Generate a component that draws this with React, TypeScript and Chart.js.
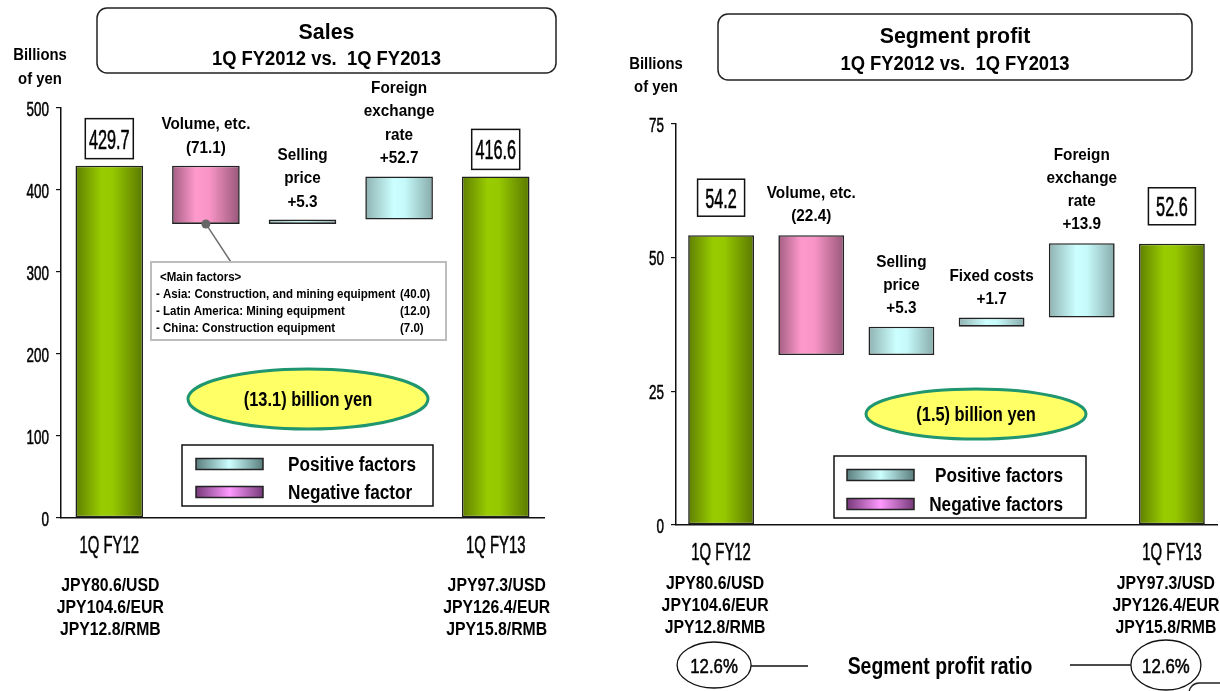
import { useEffect, useRef } from 'react';
import { Chart, registerables } from 'chart.js';

Chart.register(...registerables);

const SANS = '"Liberation Sans", Arial, "DejaVu Sans", sans-serif';

// ---------- Sales ----------
const SALES_CATEGORIES = ['1Q FY12', 'Volume, etc.', 'Selling price', 'Foreign exchange rate', '1Q FY13'];
const SALES_FACTOR_LINES = [['Volume, etc.'], ['Selling', 'price'], ['Foreign', 'exchange', 'rate']];
const SALES_START = 429.7;
const SALES_DELTAS = [-71.1, 5.3, 52.7];
const SALES_END = 416.6;
const SALES_CHANGE = -13.1;
const SALES_Y_TICKS = [0, 100, 200, 300, 400, 500];
const SALES_MAIN_FACTORS = [
  '- Asia: Construction, and mining equipment',
  '- Latin America: Mining equipment',
  '- China: Construction equipment',
];
const SALES_MAIN_FACTOR_VALUES = [-40.0, -12.0, -7.0];

// ---------- Segment profit ----------
const PROFIT_CATEGORIES = ['1Q FY12', 'Volume, etc.', 'Selling price', 'Fixed costs', 'Foreign exchange rate', '1Q FY13'];
const PROFIT_FACTOR_LINES = [['Volume, etc.'], ['Selling', 'price'], ['Fixed costs'], ['Foreign', 'exchange', 'rate']];
const PROFIT_START = 54.2;
const PROFIT_DELTAS = [-22.4, 5.3, 1.7, 13.9];
const PROFIT_END = 52.6;
const PROFIT_CHANGE = -1.5;
const PROFIT_Y_TICKS = [0, 25, 50, 75];
const PROFIT_RATIO = [12.6, 12.6];

// ---------- Exchange rates ----------
const FX_RATES_FY12 = ['JPY80.6/USD', 'JPY104.6/EUR', 'JPY12.8/RMB'];
const FX_RATES_FY13 = ['JPY97.3/USD', 'JPY126.4/EUR', 'JPY15.8/RMB'];

type Stop = [number, string];
const GREEN: Stop[] = [[0, '#5f7f00'], [0.38, '#99cc00'], [0.55, '#96c800'], [1, '#5a7800']];
const PINK: Stop[] = [[0, '#a35e83'], [0.35, '#ff99cc'], [0.55, '#f895c6'], [1, '#98577a']];
const CYAN: Stop[] = [[0, '#8fb2b2'], [0.42, '#ccffff'], [0.58, '#c6fafa'], [1, '#88abab']];
const LEG_POS: Stop[] = [[0, '#5b7e7e'], [0.5, '#ccffff'], [1, '#5b7e7e']];
const LEG_NEG: Stop[] = [[0, '#773a7a'], [0.5, '#ff99ff'], [1, '#773a7a']];

const fmtDelta = (v: number) => (v < 0 ? `(${Math.abs(v).toFixed(1)})` : `+${v.toFixed(1)}`);

function waterfall(start: number, deltas: number[], end: number) {
  const out: [number, number][] = [[0, start]];
  let level = start;
  for (const d of deltas) {
    const next = level + d;
    out.push([Math.min(level, next), Math.max(level, next)]);
    level = next;
  }
  out.push([0, end]);
  return out;
}

type Align = 'left' | 'center' | 'right';
type TextOpts = { bold?: boolean; semi?: boolean; align?: Align; sx?: number; color?: string };
// Draws text whose (x, y) is the vertical centre of the capitals; sx compresses horizontally.
// "semi" thickens regular glyphs with a hairline stroke.
function text(ctx: CanvasRenderingContext2D, s: string, x: number, y: number, size: number, o: TextOpts = {}) {
  const sx = o.sx ?? 1;
  const color = o.color ?? '#000';
  ctx.save();
  ctx.font = `${o.bold ? 'bold ' : ''}${size}px ${SANS}`;
  ctx.fillStyle = color;
  ctx.textAlign = 'left';
  ctx.textBaseline = 'alphabetic';
  const w = ctx.measureText(s).width * sx;
  const x0 = o.align === 'center' ? x - w / 2 : o.align === 'right' ? x - w : x;
  ctx.translate(x0, y + size * 0.358);
  ctx.scale(sx, 1);
  ctx.fillText(s, 0, 0);
  if (o.semi) {
    ctx.strokeStyle = color;
    ctx.lineWidth = 0.55;
    ctx.lineJoin = 'round';
    ctx.strokeText(s, 0, 0);
  }
  ctx.restore();
}

function hGradient(ctx: CanvasRenderingContext2D, x0: number, x1: number, stops: Stop[]) {
  const g = ctx.createLinearGradient(x0, 0, x1, 0);
  stops.forEach(([o, c]) => g.addColorStop(o, c));
  return g;
}

function drawEllipse(
  ctx: CanvasRenderingContext2D, cx: number, cy: number, rx: number, ry: number,
  fill: string | null, stroke: string, lw: number,
) {
  ctx.save();
  ctx.beginPath();
  ctx.ellipse(cx, cy, rx, ry, 0, 0, Math.PI * 2);
  if (fill) { ctx.fillStyle = fill; ctx.fill(); }
  ctx.strokeStyle = stroke;
  ctx.lineWidth = lw;
  ctx.stroke();
  ctx.restore();
}

function strokeRect(ctx: CanvasRenderingContext2D, x: number, y: number, w: number, h: number, r: number, color: string, lw: number) {
  ctx.save();
  ctx.beginPath();
  ctx.roundRect(x, y, w, h, r);
  ctx.fillStyle = '#fff';
  ctx.fill();
  ctx.strokeStyle = color;
  ctx.lineWidth = lw;
  ctx.stroke();
  ctx.restore();
}

interface PanelSpec {
  left: number;
  title: string;
  subtitle: string;
  categories: string[];
  factorLines: string[][];
  start: number;
  deltas: number[];
  end: number;
  change: number;
  yTicks: number[];
  legendLabels: [string, string];
  barPct: number;
  L: {
    units: [number, number, number];
    titleBox: [number, number, number, number];
    titleY: [number, number];
    padRight: number;
    padTop: number;
    yAxisWidth: number;
    xAxisHeight: number;
    valueBox: [number, number, number];
    factorLineH: number;
    factorGap: number;
    ellipse: [number, number, number, number];
    legendBox: [number, number, number, number];
    swatch: [number, number, number];
    legendRows: [number, number];
    legendTextX: number;
    legendAlign: Align;
    legendSx: number;
    catLabelY: number;
    rateY: number;
    rateLineH: number;
    rateDx: number;
  };
  extra?: (chart: Chart) => void;
}

function drawPanel(chart: Chart, spec: PanelSpec) {
  const ctx = chart.ctx;
  const L = spec.L;
  const area = chart.chartArea;
  const xs = chart.scales.x;
  const ys = chart.scales.y;
  const meta = chart.getDatasetMeta(0);
  const n = spec.categories.length;

  // Unit caption
  text(ctx, 'Billions', L.units[0], L.units[1], 16, { bold: true, align: 'center', sx: 0.93 });
  text(ctx, 'of yen', L.units[0], L.units[2], 16, { bold: true, align: 'center', sx: 0.93 });

  // Title box
  const [tx, ty, tw, th] = L.titleBox;
  strokeRect(ctx, tx, ty, tw, th, 10, '#222', 1.5);
  text(ctx, spec.title, tx + tw / 2, L.titleY[0], 22, { bold: true, align: 'center', sx: 0.97 });
  text(ctx, spec.subtitle, tx + tw / 2, L.titleY[1], 20, { bold: true, align: 'center', sx: 0.92 });

  // Y tick labels
  ys.ticks.forEach((t) => {
    text(ctx, String(t.value), area.left - 12, ys.getPixelForValue(t.value), 21, { semi: true, align: 'right', sx: 0.64 });
  });

  // Category labels for the two totals
  [0, n - 1].forEach((i) => {
    text(ctx, spec.categories[i], xs.getPixelForValue(i), L.catLabelY, 24, { semi: true, align: 'center', sx: 0.62 });
  });

  // Value boxes above the totals
  const totals = [spec.start, spec.end];
  [0, n - 1].forEach((i, k) => {
    const el = meta.data[i] as any;
    const top = Math.min(el.y, el.base);
    const [bw, bh, gap] = L.valueBox;
    const bx = el.x - bw / 2;
    const by = top - gap - bh;
    ctx.save();
    ctx.fillStyle = '#fff';
    ctx.fillRect(bx, by, bw, bh);
    ctx.strokeStyle = '#111';
    ctx.lineWidth = 1.5;
    ctx.strokeRect(bx, by, bw, bh);
    ctx.restore();
    text(ctx, totals[k].toFixed(1), el.x, by + bh / 2, 28, { semi: true, align: 'center', sx: 0.58 });
  });

  // Factor labels above each step
  spec.deltas.forEach((d, j) => {
    const el = meta.data[j + 1] as any;
    const top = Math.min(el.y, el.base);
    const lines = [...spec.factorLines[j], fmtDelta(d)];
    const lastY = top - L.factorGap;
    lines.forEach((s, k) => {
      text(ctx, s, el.x, lastY - (lines.length - 1 - k) * L.factorLineH, 17, { bold: true, align: 'center', sx: 0.9 });
    });
  });

  // Total change ellipse
  const [ecx, ecy, erx, ery] = L.ellipse;
  drawEllipse(ctx, ecx, ecy, erx, ery, '#ffff66', '#1f9570', 3);
  text(ctx, `${fmtDelta(spec.change)} billion yen`, ecx, ecy, 20, { bold: true, align: 'center', sx: 0.82 });

  // Legend
  const [lx, ly, lw, lh] = L.legendBox;
  ctx.save();
  ctx.fillStyle = '#fff';
  ctx.fillRect(lx, ly, lw, lh);
  ctx.strokeStyle = '#111';
  ctx.lineWidth = 1.5;
  ctx.strokeRect(lx, ly, lw, lh);
  const [sx0, sw, sh] = L.swatch;
  [LEG_POS, LEG_NEG].forEach((stops, k) => {
    const cy = L.legendRows[k];
    ctx.fillStyle = hGradient(ctx, sx0, sx0 + sw, stops);
    ctx.fillRect(sx0, cy - sh / 2, sw, sh);
    ctx.strokeStyle = '#222';
    ctx.lineWidth = 1.5;
    ctx.strokeRect(sx0, cy - sh / 2, sw, sh);
  });
  ctx.restore();
  spec.legendLabels.forEach((s, k) => {
    text(ctx, s, L.legendTextX, L.legendRows[k], 20, { bold: true, align: L.legendAlign, sx: L.legendSx });
  });

  // Exchange rates under the totals
  [FX_RATES_FY12, FX_RATES_FY13].forEach((rates, k) => {
    const x = xs.getPixelForValue(k === 0 ? 0 : n - 1) + L.rateDx;
    rates.forEach((s, r) => {
      text(ctx, s, x, L.rateY + r * L.rateLineH, 19, { bold: true, align: 'center', sx: 0.83 });
    });
  });

  spec.extra?.(chart);
}

function drawSalesCallout(chart: Chart) {
  const ctx = chart.ctx;
  const el = chart.getDatasetMeta(0).data[1] as any;
  const dotX = el.x;
  const dotY = Math.max(el.y, el.base);
  const box = [151, 262, 295, 78];
  ctx.save();
  ctx.strokeStyle = '#707070';
  ctx.lineWidth = 1.5;
  ctx.beginPath();
  ctx.moveTo(dotX, dotY);
  ctx.lineTo(dotX + 25, box[1]);
  ctx.stroke();
  ctx.fillStyle = '#666';
  ctx.beginPath();
  ctx.arc(dotX, dotY, 4.5, 0, Math.PI * 2);
  ctx.fill();
  ctx.fillStyle = '#fff';
  ctx.fillRect(box[0], box[1], box[2], box[3]);
  ctx.strokeStyle = '#bdbdbd';
  ctx.lineWidth = 2;
  ctx.strokeRect(box[0], box[1], box[2], box[3]);
  ctx.restore();
  text(ctx, '<Main factors>', 160, 277, 12, { bold: true, sx: 0.96 });
  SALES_MAIN_FACTORS.forEach((s, i) => {
    const y = 294 + i * 17;
    text(ctx, s, 156, y, 12, { bold: true, sx: 0.96 });
    text(ctx, fmtDelta(SALES_MAIN_FACTOR_VALUES[i]), 400, y, 12, { bold: true, sx: 0.96 });
  });
}

function drawProfitRatio(chart: Chart) {
  const ctx = chart.ctx;
  const xs = chart.scales.x;
  const n = PROFIT_CATEGORIES.length;
  const cy = 665;
  const xa = xs.getPixelForValue(0) - 7;
  const xb = xs.getPixelForValue(n - 1) - 6;
  ctx.save();
  ctx.strokeStyle = '#111';
  ctx.lineWidth = 1.3;
  ctx.beginPath();
  ctx.moveTo(xa + 37, cy + 1);
  ctx.lineTo(198, cy + 1);
  ctx.moveTo(460, cy);
  ctx.lineTo(xb - 35, cy);
  ctx.stroke();
  ctx.restore();
  drawEllipse(ctx, xa, cy, 37, 23, '#fff', '#111', 1.3);
  drawEllipse(ctx, xb, cy, 35, 25, '#fff', '#111', 1.3);
  text(ctx, `${PROFIT_RATIO[0].toFixed(1)}%`, xa, cy, 21, { semi: true, align: 'center', sx: 0.8 });
  text(ctx, `${PROFIT_RATIO[1].toFixed(1)}%`, xb, cy, 21, { semi: true, align: 'center', sx: 0.8 });
  text(ctx, 'Segment profit ratio', 330, cy, 24, { bold: true, align: 'center', sx: 0.81 });
  // corner of the next element on the slide
  ctx.save();
  ctx.strokeStyle = '#222';
  ctx.lineWidth = 1.5;
  ctx.beginPath();
  ctx.roundRect(579, 683, 80, 40, 10);
  ctx.stroke();
  ctx.restore();
}

const SALES_SPEC: PanelSpec = {
  left: 0,
  title: 'Sales',
  subtitle: '1Q FY2012 vs.  1Q FY2013',
  categories: SALES_CATEGORIES,
  factorLines: SALES_FACTOR_LINES,
  start: SALES_START,
  deltas: SALES_DELTAS,
  end: SALES_END,
  change: SALES_CHANGE,
  yTicks: SALES_Y_TICKS,
  legendLabels: ['Positive factors', 'Negative factor'],
  barPct: 0.7,
  L: {
    units: [40, 54, 78],
    titleBox: [97, 8, 459, 65],
    titleY: [31, 58],
    padRight: 66,
    padTop: 108,
    yAxisWidth: 61,
    xAxisHeight: 173,
    valueBox: [48, 40, 7],
    factorLineH: 23.5,
    factorGap: 19,
    ellipse: [308, 399, 120, 30],
    legendBox: [182, 445, 251, 61],
    swatch: [196, 67, 11],
    legendRows: [464, 492],
    legendTextX: 288,
    legendAlign: 'left',
    legendSx: 0.86,
    catLabelY: 544,
    rateY: 584,
    rateLineH: 22,
    rateDx: 1,
  },
  extra: drawSalesCallout,
};

const PROFIT_SPEC: PanelSpec = {
  left: 610,
  title: 'Segment profit',
  subtitle: '1Q FY2012 vs.  1Q FY2013',
  categories: PROFIT_CATEGORIES,
  factorLines: PROFIT_FACTOR_LINES,
  start: PROFIT_START,
  deltas: PROFIT_DELTAS,
  end: PROFIT_END,
  change: PROFIT_CHANGE,
  yTicks: PROFIT_Y_TICKS,
  legendLabels: ['Positive factors', 'Negative factors'],
  barPct: 0.73,
  L: {
    units: [46, 63, 86],
    titleBox: [108, 14, 474, 66],
    titleY: [35, 63],
    padRight: 3,
    padTop: 124,
    yAxisWidth: 66,
    xAxisHeight: 166,
    valueBox: [47, 37, 19],
    factorLineH: 23,
    factorGap: 20,
    ellipse: [366, 414, 110, 25],
    legendBox: [224, 456, 252, 62],
    swatch: [237, 67, 11],
    legendRows: [475, 504],
    legendTextX: 453,
    legendAlign: 'right',
    legendSx: 0.86,
    catLabelY: 551,
    rateY: 582,
    rateLineH: 22,
    rateDx: -6,
  },
  extra: drawProfitRatio,
};

function WaterfallPanel({ spec }: { spec: PanelSpec }) {
  const ref = useRef<HTMLCanvasElement>(null);
  useEffect(() => {
    const canvas = ref.current;
    if (!canvas) return;
    const data = waterfall(spec.start, spec.deltas, spec.end);
    const kinds = data.map((_, i) =>
      i === 0 || i === data.length - 1 ? 'total' : spec.deltas[i - 1] < 0 ? 'neg' : 'pos',
    );
    const stopsFor = { total: GREEN, neg: PINK, pos: CYAN } as Record<string, Stop[]>;
    const n = spec.categories.length;
    const yMax = spec.yTicks[spec.yTicks.length - 1];
    const yStep = spec.yTicks[1] - spec.yTicks[0];

    const chart = new Chart(canvas, {
      type: 'bar',
      data: {
        labels: spec.categories,
        datasets: [
          {
            data: data as any,
            backgroundColor: (c: any) => {
              const ch = c.chart as Chart;
              const area = ch.chartArea;
              if (!area || c.dataIndex === undefined) return '#99cc00';
              const x = ch.scales.x.getPixelForValue(c.dataIndex);
              const hw = (area.width / n) * spec.barPct / 2;
              return hGradient(ch.ctx, x - hw, x + hw, stopsFor[kinds[c.dataIndex]]);
            },
            borderColor: '#222',
            borderWidth: 1.6,
            borderSkipped: false,
            barPercentage: spec.barPct,
            categoryPercentage: 1,
          },
        ],
      },
      options: {
        responsive: false,
        animation: false,
        devicePixelRatio: 1,
        layout: { padding: { left: 0, right: spec.L.padRight, top: spec.L.padTop, bottom: 0 } },
        plugins: { legend: { display: false }, tooltip: { enabled: false } },
        scales: {
          x: {
            type: 'category',
            grid: { display: false, drawTicks: false },
            border: { color: '#111', width: 1.5 },
            ticks: { display: false },
            afterFit: (s: any) => { s.height = spec.L.xAxisHeight; },
          },
          y: {
            min: 0,
            max: yMax,
            ticks: { display: false, stepSize: yStep },
            grid: { drawOnChartArea: false, drawTicks: true, tickLength: 5, color: '#111', lineWidth: 1.2 },
            border: { color: '#111', width: 1.5 },
            afterFit: (s: any) => { s.width = spec.L.yAxisWidth; },
          },
        },
      },
      plugins: [
        {
          id: 'panelDecor',
          afterDraw: (ch: Chart) => drawPanel(ch, spec),
        },
      ],
    });
    return () => chart.destroy();
  }, [spec]);

  return (
    <canvas
      ref={ref}
      width={610}
      height={691}
      style={{ position: 'absolute', left: spec.left, top: 0, width: 610, height: 691 }}
    />
  );
}

export default function App() {
  return (
    <div style={{ position: 'absolute', left: 0, top: 0, width: 1220, height: 691, background: '#fff', overflow: 'hidden' }}>
      <WaterfallPanel spec={SALES_SPEC} />
      <WaterfallPanel spec={PROFIT_SPEC} />
    </div>
  );
}
